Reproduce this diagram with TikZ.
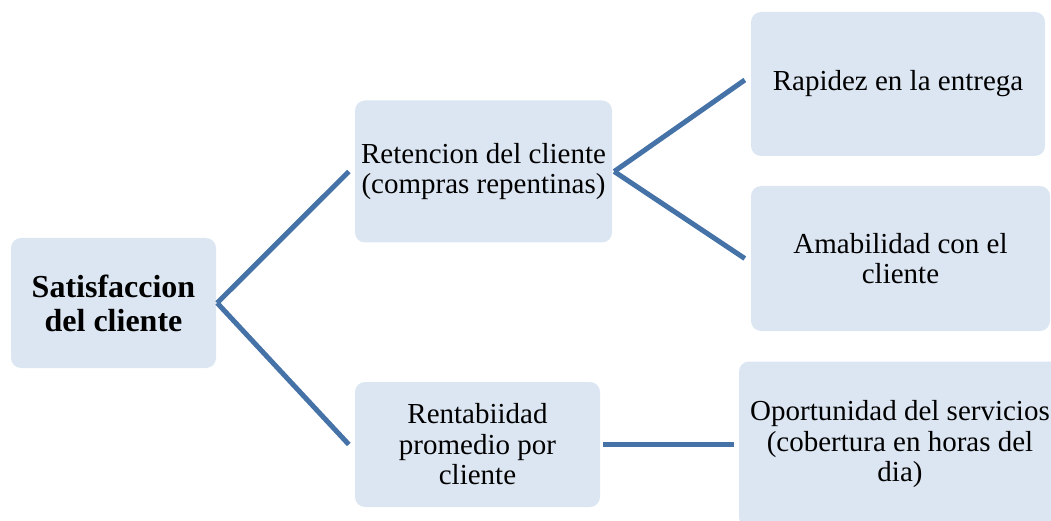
\documentclass[tikz,border=0pt]{standalone}
\usepackage{fontspec}
\setmainfont{Liberation Serif}
\definecolor{boxfill}{RGB}{220,230,242}
\definecolor{linkcol}{RGB}{69,114,167}
\tikzset{
  box/.style={fill=boxfill, rounded corners=10pt, inner sep=0pt, align=center,
    font=\fontsize{29}{30.5}\selectfont},
  link/.style={draw=linkcol, line width=5pt}
}
\begin{document}
\begin{tikzpicture}[x=1pt,y=-1pt]
\useasboundingbox (0,0) rectangle (1051,521);
\clip (0,0) rectangle (1051,521);
\node[box, minimum width=205pt, minimum height=130pt, font=\fontsize{32}{34}\selectfont\bfseries] (sat) at (113.5,303) {Satisfaccion\\del cliente};
\node[box, minimum width=257pt, minimum height=142pt] (ret) at (483.5,171.5) {Retencion del cliente\\(compras repentinas)};
\node[box, minimum width=245pt, minimum height=125pt] (rent) at (477.5,444.5) {Rentabiidad\\promedio por\\cliente};
\node[box, minimum width=294pt, minimum height=144pt] (rap) at (898,84) {Rapidez en la entrega};
\node[box, minimum width=299pt, minimum height=145pt] (ama) at (900.5,258.5) {Amabilidad con el\\cliente};
\node[box, minimum width=322pt, minimum height=166pt] (opo) at (900,444.5) {Oportunidad del servicios\\(cobertura en horas del\\dia)};
\draw[link] ([xshift=1pt]sat.east) -- ([xshift=-6pt]ret.west);
\draw[link] ([xshift=1pt]sat.east) -- ([xshift=-6pt]rent.west);
\draw[link] ([xshift=2pt]ret.east) -- ([xshift=-6pt,yshift=4pt]rap.west);
\draw[link] ([xshift=2pt]ret.east) -- ([xshift=-6pt]ama.west);
\draw[link] ([xshift=3pt]rent.east) -- ([xshift=-5pt]opo.west);
\end{tikzpicture}
\end{document}
